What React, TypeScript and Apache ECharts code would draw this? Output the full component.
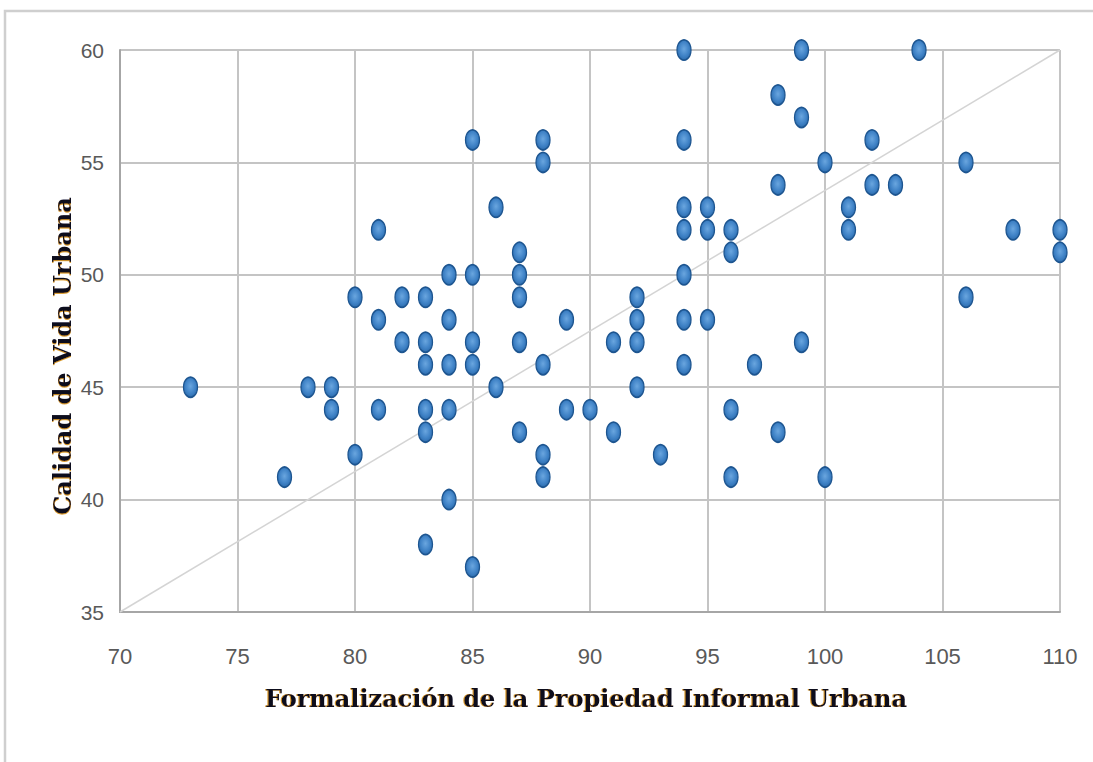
import React, { useEffect, useRef } from "react";
import * as echarts from "echarts";

const xValues = [
  73, 77, 78, 79, 79, 80, 80, 81, 81, 81, 82, 82, 83, 83, 83, 83, 83, 83, 84, 84, 84, 84, 84,
  85, 85, 85, 85, 85, 86, 86, 87, 87, 87, 87, 87, 88, 88, 88, 88, 88, 89, 89, 90, 91, 91,
  92, 92, 92, 92, 93, 94, 94, 94, 94, 94, 94, 94, 95, 95, 95, 96, 96, 96, 96, 97, 98, 98, 98,
  99, 99, 99, 100, 100, 101, 101, 102, 102, 103, 104, 106, 106, 108, 110, 110,
];
const yValues = [
  45, 41, 45, 45, 44, 49, 42, 52, 48, 44, 49, 47, 49, 47, 46, 44, 43, 38, 50, 48, 46, 44, 40,
  56, 50, 47, 46, 37, 53, 45, 51, 50, 49, 47, 43, 56, 55, 46, 42, 41, 48, 44, 44, 47, 43,
  49, 48, 47, 45, 42, 60, 56, 53, 52, 50, 48, 46, 53, 52, 48, 52, 51, 44, 41, 46, 58, 54, 43,
  60, 57, 47, 55, 41, 53, 52, 56, 54, 54, 60, 55, 49, 52, 52, 51,
];
const lineX = [70, 110];
const lineY = [35, 60];
const xTitle = "Formalización de la Propiedad Informal Urbana";
const yTitle = "Calidad de Vida Urbana";

export default function App() {
  const ref = useRef<HTMLDivElement>(null);
  useEffect(() => {
    if (!ref.current) return;
    const chart = echarts.init(ref.current, undefined, { renderer: "svg" });
    const points = xValues.map((x, i) => [x, yValues[i]]);
    const line = lineX.map((x, i) => [x, lineY[i]]);
    const titleStyle = {
      fill: "#0a0a1f",
      font: "bold 24px 'DejaVu Serif', 'Liberation Serif', serif",
      textShadowColor: "rgba(215,145,20,0.9)",
      textShadowOffsetX: -1,
      textShadowOffsetY: 0,
      textShadowBlur: 1,
    };
    chart.setOption({
      animation: false,
      backgroundColor: "#ffffff",
      grid: { left: 120, right: 33, top: 50, bottom: 150 },
      xAxis: {
        type: "value",
        min: 70,
        max: 110,
        interval: 5,
        axisLine: { show: true, lineStyle: { color: "#a6a6a6", width: 2 } },
        axisTick: { show: false },
        splitLine: { show: true, lineStyle: { color: "#c4c4c4", width: 2 } },
        axisLabel: {
          margin: 33,
          color: "#595959",
          fontSize: 22,
          fontFamily: "'Liberation Sans Narrow', 'Liberation Sans', sans-serif",
        },
      },
      yAxis: {
        type: "value",
        min: 35,
        max: 60,
        interval: 5,
        axisLine: { show: true, lineStyle: { color: "#a6a6a6", width: 2 } },
        axisTick: { show: false },
        splitLine: { show: true, lineStyle: { color: "#c4c4c4", width: 2 } },
        axisLabel: {
          margin: 16,
          color: "#595959",
          fontSize: 21,
          fontFamily: "'Liberation Sans', sans-serif",
        },
      },
      graphic: [
        {
          type: "rect",
          silent: true,
          shape: { x: 5, y: 11, width: 1200, height: 900 },
          style: { fill: "none", stroke: "#cfcfcf", lineWidth: 2.5 },
        },
        {
          type: "text",
          x: 586,
          y: 698,
          style: { ...titleStyle, text: xTitle, align: "center", verticalAlign: "middle" },
        },
        {
          type: "text",
          x: 62,
          y: 356,
          rotation: Math.PI / 2,
          style: { ...titleStyle, text: yTitle, align: "center", verticalAlign: "middle" },
        },
      ],
      series: [
        {
          type: "line",
          data: line,
          symbol: "none",
          lineStyle: { color: "#d4d4d4", width: 1.5 },
          z: 2,
          silent: true,
        },
        {
          type: "scatter",
          data: points,
          symbol: "circle",
          symbolSize: [14, 20],
          clip: false,
          z: 3,
          itemStyle: {
            color: {
              type: "radial",
              x: 0.5,
              y: 0.45,
              r: 0.6,
              colorStops: [
                { offset: 0, color: "#6aa6df" },
                { offset: 0.6, color: "#3f82c6" },
                { offset: 1, color: "#2a68a8" },
              ],
            },
            borderColor: "#1d5590",
            borderWidth: 1.5,
            opacity: 1,
          },
        },
      ],
    });
    return () => chart.dispose();
  }, []);
  return (
    <div
      ref={ref}
      style={{ position: "absolute", left: 0, top: 0, width: 1093, height: 762 }}
    />
  );
}
